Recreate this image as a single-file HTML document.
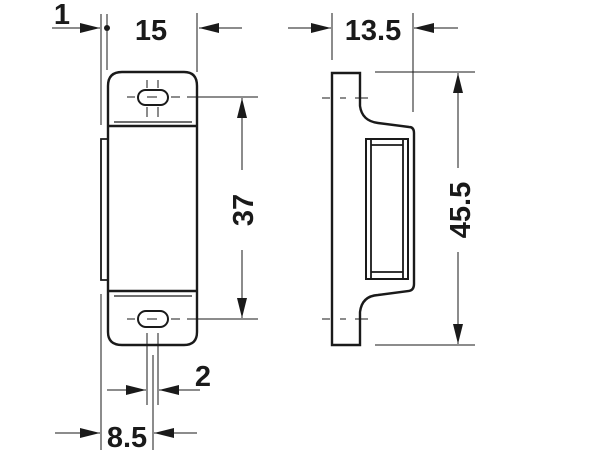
<!DOCTYPE html>
<html><head><meta charset="utf-8"><style>
html,body{margin:0;padding:0;background:#fff;}
svg{display:block;}
text{font-family:"Liberation Sans",Arial,sans-serif;font-weight:bold;fill:#1a1a1a;}
</style></head><body>
<svg width="600" height="450" viewBox="0 0 600 450" xmlns="http://www.w3.org/2000/svg">
<defs>
<marker id="a" viewBox="0 0 20 10" refX="20" refY="5" markerWidth="20" markerHeight="10" markerUnits="userSpaceOnUse" orient="auto">
<path d="M0,0 L20,5 L0,10 z" fill="#1a1a1a"/></marker>
</defs>
<g stroke="#1a1a1a" fill="none">
<path d="M108,126 L108,86 Q108,72 122,72 L184,72 Q197,72 197,86 L197,332 Q197,345 184,345 L122,345 Q108,345 108,332 Z" stroke-width="2.4"/>
<line x1="108" y1="126" x2="197" y2="126" stroke-width="2.4"/>
<line x1="108" y1="291" x2="197" y2="291" stroke-width="2.4"/>
<line x1="114" y1="122" x2="192" y2="122" stroke-width="1.2"/>
<line x1="114" y1="296" x2="192" y2="296" stroke-width="1.2"/>
<path d="M108,139 L101,139 L101,280 L108,280" stroke-width="1.8"/>
<rect x="138" y="90" width="30" height="15" rx="7.5" stroke-width="2"/>
<rect x="138" y="311" width="30" height="16" rx="8" stroke-width="2"/>
<g stroke-width="1">
<line x1="127" y1="97" x2="135" y2="97"/><line x1="147" y1="97" x2="157" y2="97"/><line x1="171" y1="97" x2="180" y2="97"/>
<line x1="147" y1="80" x2="147" y2="88"/><line x1="158" y1="80" x2="158" y2="88"/>
<line x1="147" y1="107" x2="147" y2="117"/><line x1="158" y1="107" x2="158" y2="117"/>
<line x1="187" y1="97" x2="258" y2="97"/>
<line x1="127" y1="319" x2="135" y2="319"/><line x1="147" y1="319" x2="157" y2="319"/><line x1="171" y1="319" x2="180" y2="319"/>
<line x1="187" y1="319" x2="258" y2="319"/>
<line x1="147" y1="333" x2="147" y2="405"/><line x1="158" y1="333" x2="158" y2="405"/>
<line x1="153" y1="355" x2="153" y2="450"/>
<line x1="101" y1="14" x2="101" y2="125"/><line x1="107" y1="14" x2="107" y2="70"/>
<line x1="197" y1="13" x2="197" y2="72"/>
<line x1="101" y1="294" x2="101" y2="450"/>
<line x1="52" y1="28" x2="100" y2="28" marker-end="url(#a)"/>
<line x1="242" y1="28" x2="199" y2="28" marker-end="url(#a)"/>
<line x1="242" y1="170" x2="242" y2="98" marker-end="url(#a)"/>
<line x1="242" y1="250" x2="242" y2="318" marker-end="url(#a)"/>
<line x1="107" y1="390" x2="146" y2="390" marker-end="url(#a)"/>
<line x1="200" y1="390" x2="159" y2="390" marker-end="url(#a)"/>
<line x1="55" y1="433" x2="100" y2="433" marker-end="url(#a)"/>
<line x1="197" y1="433" x2="154" y2="433" marker-end="url(#a)"/>
</g>
<circle cx="107" cy="28" r="3" fill="#1a1a1a" stroke="none"/>
<path d="M360,73 L332,73 L332,345 L360,345 L360,312 Q362,296 378,295 L409,291 Q414,290 414,284 L414,133 Q414,127 409,127 L378,123 Q362,121 360,106 Z" stroke-width="2.4"/>
<rect x="366" y="139" width="42" height="140" stroke-width="2"/>
<line x1="371" y1="139" x2="371" y2="279" stroke-width="1.8"/>
<line x1="403" y1="139" x2="403" y2="279" stroke-width="1.8"/>
<line x1="371" y1="145" x2="403" y2="145" stroke-width="1.8"/>
<line x1="371" y1="272" x2="403" y2="272" stroke-width="1.8"/>
<g stroke-width="1">
<line x1="322" y1="98" x2="330" y2="98"/><line x1="340" y1="98" x2="346" y2="98"/><line x1="355" y1="98" x2="368" y2="98"/>
<line x1="322" y1="319" x2="330" y2="319"/><line x1="340" y1="319" x2="346" y2="319"/><line x1="355" y1="319" x2="368" y2="319"/>
<line x1="332" y1="13" x2="332" y2="60"/>
<line x1="413" y1="13" x2="413" y2="112"/>
<line x1="375" y1="72" x2="475" y2="72"/>
<line x1="375" y1="345" x2="475" y2="345"/>
<line x1="288" y1="28" x2="331" y2="28" marker-end="url(#a)"/>
<line x1="458" y1="28" x2="414" y2="28" marker-end="url(#a)"/>
<line x1="458" y1="168" x2="458" y2="73" marker-end="url(#a)"/>
<line x1="458" y1="252" x2="458" y2="344" marker-end="url(#a)"/>
</g>
</g>
<text x="62" y="24" font-size="29" text-anchor="middle">1</text>
<text x="151" y="40" font-size="29" text-anchor="middle">15</text>
<text x="373" y="40" font-size="29" text-anchor="middle">13.5</text>
<text x="203" y="386" font-size="29" text-anchor="middle">2</text>
<text x="127" y="447" font-size="29" text-anchor="middle">8.5</text>
<text transform="translate(253,210) rotate(-90)" font-size="29" text-anchor="middle">37</text>
<text transform="translate(470,210) rotate(-90)" font-size="29" text-anchor="middle">45.5</text>
</svg>
</body></html>
